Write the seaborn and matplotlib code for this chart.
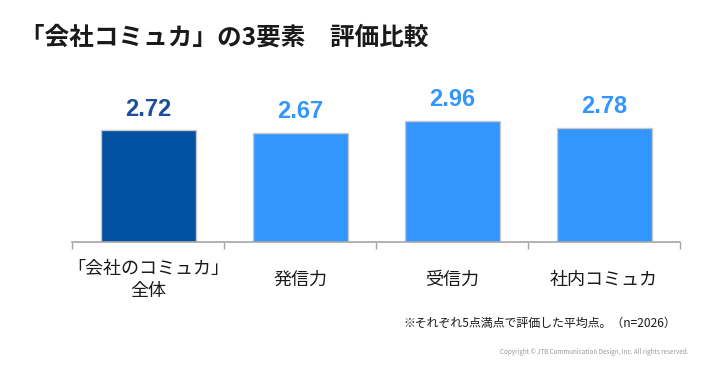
import matplotlib
matplotlib.use("Agg")
import matplotlib.pyplot as plt
import seaborn as sns
import pandas as pd
import numpy as np

# データ
categories = ["「会社のコミュカ」\n全体", "発信力", "受信力", "社内コミュカ"]
scores = [2.72, 2.67, 2.96, 2.78]
bar_colors = ["#0051A2", "#3396FF", "#3396FF", "#3396FF"]
label_colors = ["#1B4F9C", "#3396FF", "#3396FF", "#3396FF"]

sns.set_style("white")
plt.rcParams["font.family"] = ["Noto Sans CJK JP", "DejaVu Sans"]

df = pd.DataFrame({"category": categories, "score": scores})

fig = plt.figure(figsize=(7.2, 3.71), dpi=100)
ax = fig.add_axes([72 / 720, 129 / 371, 608 / 720, 143.5 / 371])

sns.barplot(data=df, x="category", y="score", hue="category",
            palette=bar_colors, legend=False, width=0.625, saturation=1,
            edgecolor="#C8C8C8", linewidth=1.0, ax=ax)

ax.set_xlim(-0.5, len(categories) - 0.5)
ax.set_ylim(0, 3.5)
ax.set_xlabel("")
ax.set_ylabel("")
ax.set_yticks([])
for s in ["top", "right", "left"]:
    ax.spines[s].set_visible(False)
ax.spines["bottom"].set_color("#A6A6A6")
ax.spines["bottom"].set_linewidth(1.2)

# 区切り目盛り
ax.set_xticks(np.arange(-0.5, len(categories)), minor=True)
ax.tick_params(axis="x", which="minor", length=5, width=1.0,
               color="#A6A6A6", direction="out", bottom=True)
ax.tick_params(axis="x", which="major", length=0, pad=27)
ax.set_xticks(range(len(categories)))
ax.set_xticklabels(categories, fontsize=13, color="#1A1A1A", linespacing=1.3)
for t in ax.get_xticklabels():
    t.set_verticalalignment("center")

# 値ラベル
for i, (v, c) in enumerate(zip(scores, label_colors)):
    ax.annotate(f"{v:.2f}", xy=(i, v), xytext=(0, 7), textcoords="offset points",
                ha="center", va="bottom", fontsize=17, fontweight="bold",
                color=c, family=["Liberation Sans", "DejaVu Sans"])

fig.text(20 / 720, 1 - 38 / 371, "「会社コミュカ」の3要素　評価比較",
         fontsize=17.7, fontweight="bold", color="#1A1A1A", va="center", ha="left")
fig.text(676 / 720, 1 - 323 / 371, "※それぞれ5点満点で評価した平均点。（n=2026）",
         fontsize=8.6, color="#1A1A1A", va="center", ha="right")
fig.text(688 / 720, 1 - 352 / 371,
         "Copyright © JTB Communication Design, Inc. All rights reserved.",
         fontsize=4.5, color="#999999", va="center", ha="right")

fig.savefig("out.png", dpi=100)
